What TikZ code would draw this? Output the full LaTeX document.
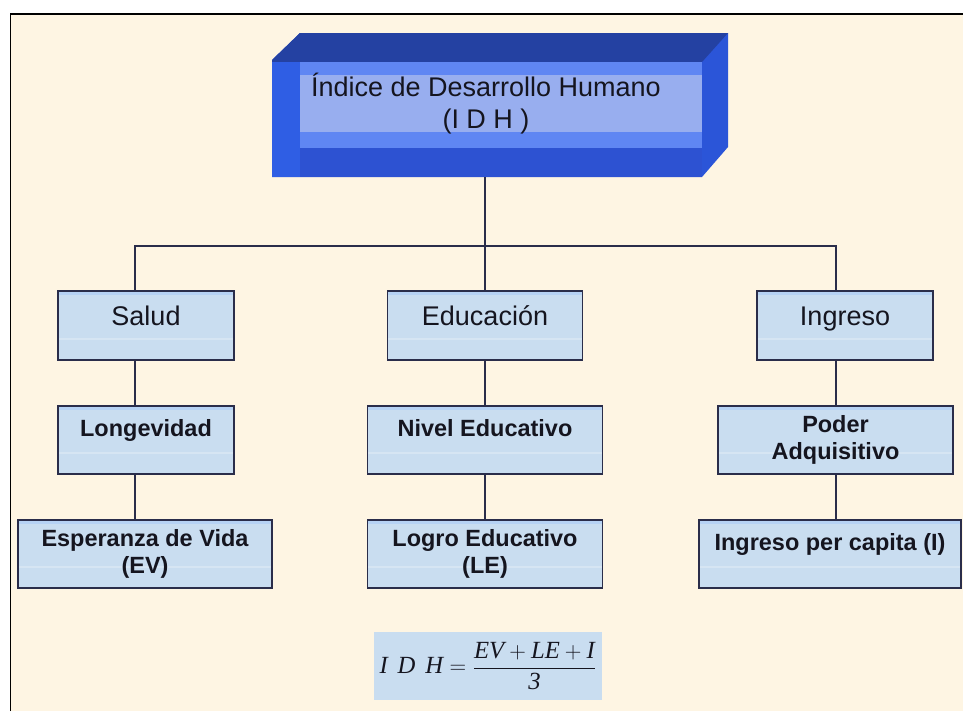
\documentclass[tikz,border=0pt]{standalone}
\usepackage{fontspec}
\setmainfont{Liberation Sans}
\newfontfamily\frmfont{Liberation Serif}
\usepackage{amsmath}
\newcommand{\tim}[1]{\text{\frmfont\itshape #1}}

\definecolor{paper}{HTML}{FEF5E3}
\definecolor{boxfill}{HTML}{C9DDF0}
\definecolor{boxtop}{HTML}{B6D2F4}
\definecolor{boxline}{HTML}{2A2D4A}
\definecolor{ink}{HTML}{15151F}
\definecolor{faceback}{HTML}{2B55D8}
\definecolor{facetop}{HTML}{2441A2}
\definecolor{faceleft}{HTML}{2F5EE4}
\definecolor{facebot}{HTML}{2D52D2}
\definecolor{faceinner}{HTML}{5F86F3}
\definecolor{facemid}{HTML}{98AEEF}

\tikzset{
	box/.style={draw=boxline, fill=boxfill, line width=1.1pt, align=center, text=ink,
		path picture={
			\fill[boxtop] (path picture bounding box.north west) rectangle ([yshift=-3pt]path picture bounding box.north east);
			\fill[white, opacity=.25] ([yshift=15pt]path picture bounding box.south west) rectangle ([yshift=16.5pt]path picture bounding box.south east);
		}},
	bw/.style={minimum width=#1*0.75pt},
	bh/.style={minimum height=#1*0.75pt},
	headtext/.style={font=\fontsize{20.25}{24}\selectfont},
	subtext/.style={font=\fontsize{17.6}{20}\selectfont\bfseries},
	oneline/.style={text height=6pt, text depth=#1},
	oneline/.default=6pt,
	wire/.style={draw=boxline, line width=0.9pt},
}

\begin{document}
\begin{tikzpicture}[x=0.75pt, y=-0.75pt]
	\useasboundingbox (0,0) rectangle (963,711);
	\fill[paper] (10.5,14) rectangle (963,711);
	\draw[black, line width=1.1pt] (10.5,711) -- (10.5,14) -- (963,14);

	% bevelled title block
	\fill[faceback] (300,33) -- (728,33) -- (728,147) -- (702,177) -- (272,177) -- (272,60) -- cycle;
	\fill[facetop] (272,62) -- (272,60) -- (300,33) -- (728,33) -- (702,62) -- cycle;
	\fill[faceleft] (272,62) rectangle (300,177);
	\fill[facebot] (300,148) rectangle (702,177);
	\fill[faceinner] (300,62) rectangle (702,148);
	\fill[facemid] (300,75) rectangle (702,132);

	\node (idh)[headtext, align = center, text=ink] at(486,104) {Índice de Desarrollo Humano\\(I D H )};
	\coordinate (idhbot) at (485,177);
	\coordinate (busL) at (135,246);
	\coordinate (busR) at (836,246);

	\node (salud)[box, headtext, oneline, bw=176, bh=69] at(146,325.5) {Salud};
	\node (educ)[box, headtext, oneline, bw=195, bh=69] at(485,325.5) {Educación};
	\node (ingreso)[box, headtext, oneline, bw=176, bh=69] at(845,325.5) {Ingreso};

	\node (longev)[box, subtext, oneline=12pt, bw=176, bh=68] at(146,440) {Longevidad};
	\node (nivel)[box, subtext, oneline=12pt, bw=235, bh=68] at(485,440) {Nivel Educativo};
	\node (poder)[box, subtext, bw=235, bh=68] at(835.5,440) {Poder\\Adquisitivo};

	\node (esper)[box, subtext, bw=254, bh=68] at(145,554) {Esperanza de Vida\\(EV)};
	\node (logro)[box, subtext, bw=235, bh=68] at(485,554) {Logro Educativo\\(LE)};
	\node (ingpc)[box, subtext, oneline=12pt, bw=262, bh=68] at(830,554) {Ingreso per capita (I)};

	\node (formula)[fill=boxfill, inner sep=0pt, bw=228, bh=68, text=ink, font=\fontsize{18.5}{22}\selectfont] at(488,666) {$\tim{I\hspace{0.4em}D\hspace{0.4em}H}=\dfrac{\tim{EV}+\tim{LE}+\tim{I}}{\tim{3}}$};

	\draw [wire](idhbot)--(educ.north);
	\draw [wire](busL |- salud.north)--(busL)--(busR)--(busR |- ingreso.north);
	\draw [wire](busL |- salud.south)--(busL |- longev.north);
	\draw [wire](busL |- longev.south)--(busL |- esper.north);
	\draw [wire](educ.south)--(nivel.north);
	\draw [wire](nivel.south)--(logro.north);
	\draw [wire](busR |- ingreso.south)--(busR |- poder.north);
	\draw [wire](busR |- poder.south)--(busR |- ingpc.north);
\end{tikzpicture}
\end{document}
